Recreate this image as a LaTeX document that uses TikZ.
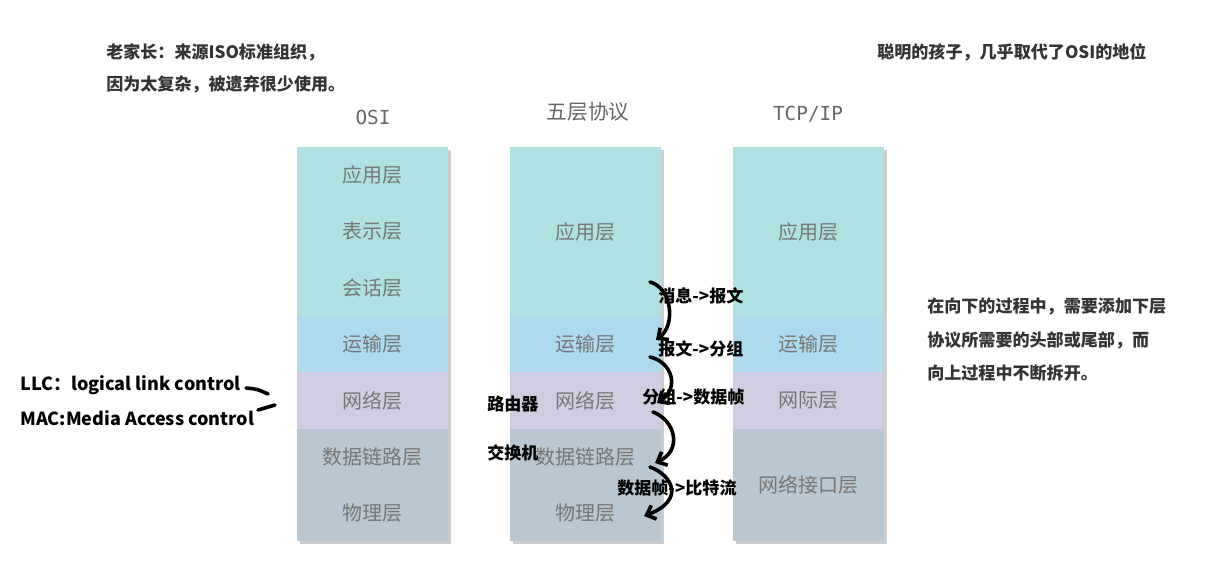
\documentclass[tikz,border=0pt]{standalone}
\usepackage{fontspec}
\newfontfamily\cjk{Noto Sans CJK SC}
\newfontfamily\monof{DejaVu Sans Mono}
\usetikzlibrary{arrows.meta}

\definecolor{appc}{HTML}{AFE1E3}
\definecolor{tranc}{HTML}{ADDAEC}
\definecolor{netc}{HTML}{D0CCE2}
\definecolor{linkc}{HTML}{B8C7D1}
\definecolor{shadc}{HTML}{CDCDCD}
\definecolor{laytext}{HTML}{777777}
\definecolor{headc}{HTML}{666666}
\definecolor{notec}{HTML}{333333}

\tikzset{
  layer/.style={minimum width=113.25pt, minimum height=42.225pt, inner sep=0pt, outer sep=0pt,
    text=laytext, font=\cjk\fontsize{15}{17}\selectfont},
  head/.style={inner sep=0pt, text=headc},
  note/.style={anchor=west, inner sep=0pt, text=notec, font=\cjk\bfseries\fontsize{12.8}{15}\selectfont},
  curl/.style={line width=2.7pt, line cap=round, black},
}

\begin{document}
\begin{tikzpicture}[x=0.75pt,y=-0.75pt,>={Straight Barb[length=6pt,width=11pt]}]
		\useasboundingbox (0,0) rectangle (1210,587);

		% shadows
		\fill[shadc] (300,150) rectangle (451,544);
		\fill[shadc] (513,150) rectangle (664,544);
		\fill[shadc] (736,150) rectangle (887,544);

		% OSI
		\node (ohead) [head, font=\monof\fontsize{14.5}{16}\selectfont] at (373,117) {OSI};
		\node (oapp)  [layer, fill=appc]  at (372.5,175.15) {应用层};
		\node (opres) [layer, fill=appc]  at (372.5,231.45) {表示层};
		\node (osess) [layer, fill=appc]  at (372.5,287.75) {会话层};
		\node (otran) [layer, fill=tranc] at (372.5,344.05) {运输层};
		\node (onet)  [layer, fill=netc]  at (372.5,400.35) {网络层};
		\node (olink) [layer, fill=linkc] at (372.5,456.65) {数据链路层};
		\node (ophy)  [layer, fill=linkc] at (372.5,512.95) {物理层};

		% five layers
		\node (fhead) [head, font=\cjk\fontsize{15.5}{17}\selectfont] at (588,112) {五层协议};
		\node (fapp)  [layer, fill=appc, minimum height=126.675pt] at (585.5,231.45) {应用层};
		\node (ftran) [layer, fill=tranc] at (585.5,344.05) {运输层};
		\node (fnet)  [layer, fill=netc]  at (585.5,400.35) {网络层};
		\node (flink) [layer, fill=linkc] at (585.5,456.65) {数据链路层};
		\node (fphy)  [layer, fill=linkc] at (585.5,512.95) {物理层};

		% TCP/IP
		\node (thead) [head, font=\monof\fontsize{14.5}{16}\selectfont] at (808,114) {TCP/IP};
		\node (tapp)  [layer, fill=appc, minimum height=126.675pt] at (808.5,231.45) {应用层};
		\node (ttran) [layer, fill=tranc] at (808.5,344.05) {运输层};
		\node (tnet)  [layer, fill=netc]  at (808.5,400.35) {网际层};
		\node (tlink) [layer, fill=linkc, minimum height=84.45pt] at (808.5,484.8) {网络接口层};

		% notes
		\node (old1) [note] at (106,52) {老家长：来源ISO标准组织，};
		\node (old2) [note] at (106,84) {因为太复杂，被遗弃很少使用。};
		\node (kid)  [note] at (877,52) {聪明的孩子，几乎取代了OSI的地位};
		\node (dn1)  [note] at (927,307) {在向下的过程中，需要添加下层};
		\node (dn2)  [note] at (927,340) {协议所需要的头部或尾部，而};
		\node (dn3)  [note] at (927,373) {向上过程中不断拆开。};
		\node (llc)  [note, text=black, font=\cjk\bfseries\fontsize{13.5}{15}\selectfont] at (20,385) {LLC：logical link control};
		\node (mac)  [note, text=black, font=\cjk\bfseries\fontsize{13.5}{15}\selectfont] at (20,418) {MAC:Media Access control};
		\node (rtr)  [note, text=black] at (487,404) {路由器};
		\node (swt)  [note, text=black] at (487,453) {交换机};

		% strokes next to LLC / MAC
		\coordinate (l1) at (246,388);
		\coordinate (l2) at (268,394);
		\coordinate (m1) at (258,410);
		\coordinate (m2) at (275,405);
		\draw[curl] (l1) .. controls (257,389) .. (l2);
		\draw[curl] (m1) .. controls (267,407) .. (m2);

		% encapsulation curls
		\coordinate (c1) at (650,282);
		\coordinate (c2) at (656,340);
		\coordinate (c3) at (650,357);
		\coordinate (c4) at (657,403);
		\coordinate (c5) at (653,412);
		\coordinate (c6) at (655,463);
		\coordinate (c7) at (650,467);
		\coordinate (c8) at (644,516);
		\draw[->,curl] (c1) .. controls (672,288) and (676,325) .. (c2);
		\draw[->,curl] (c3) .. controls (672,362) and (680,388) .. (c4);
		\draw[->,curl] (c5) .. controls (675,420) and (683,450) .. (c6);
		\draw[->,curl] (c7) .. controls (672,475) and (686,500) .. (c8);

		\node (msg)  [note, text=black] at (658,296) {消息->报文};
		\node (seg)  [note, text=black] at (658,349) {报文->分组};
		\node (pkt)  [note, text=black] at (642,397) {分组->数据帧};
		\node (frm)  [note, text=black] at (617,488) {数据帧->比特流};
	\end{tikzpicture}
\end{document}
